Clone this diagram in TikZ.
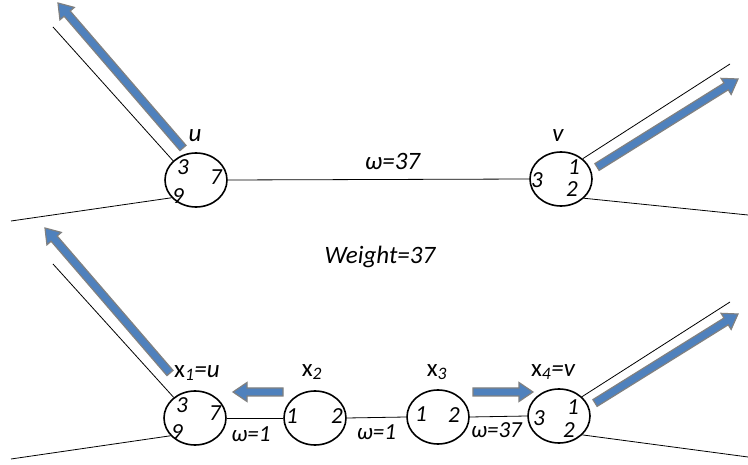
\documentclass[tikz,border=0pt]{standalone}
\usepackage{fontspec}
\setmainfont{Carlito}
\usetikzlibrary{shapes.geometric,calc}

\definecolor{arrowblue}{RGB}{79,129,189}
\definecolor{arrowgray}{RGB}{128,128,128}

% block arrow from #1 to #2
\newcommand{\fatarrow}[2]{%
  \draw[fatarrow] let \p1=($(#2)-(#1)$), \n1={atan2(\y1,\x1)}, \n2={veclen(\x1,\y1)} in
    [shift={(#1)}, rotate=\n1] (0,-4) -- (\n2-14,-4) -- (\n2-14,-9.5) -- (\n2,0)
    -- (\n2-14,9.5) -- (\n2-14,4) -- (0,4) -- cycle;}

\begin{document}
\begin{tikzpicture}[x=1pt,y=-1pt,
    semithick,
    port/.style={ellipse, draw, line width=1.6pt, minimum width=62pt, minimum height=54pt, inner sep=0pt},
    num/.style={font=\fontsize{23}{26}\selectfont\itshape, inner sep=0pt},
    lbl/.style={font=\fontsize{25}{29}\selectfont\itshape, inner sep=0pt},
    wlbl/.style={font=\fontsize{23}{26}\selectfont\itshape, inner sep=0pt},
    wire/.style={line width=0.8pt},
    fatarrow/.style={fill=arrowblue, draw=arrowgray, line width=1.2pt, line join=miter}
    ]
\useasboundingbox (0,0) rectangle (748,465);

% top: single edge
\node[port] (u) at (196,180) {};
\node[port] (v) at (561,179) {};
\node[lbl] (ulbl) at (195,136) {u};
\node[lbl] (vlbl) at (558,136) {v};
\node[num] (u3) at (183,167) {3};
\node[num] (u7) at (216,177) {7};
\node[num] (u9) at (178,196) {9};
\node[num] (v3) at (537,180) {3};
\node[num] (v1) at (574,167) {1};
\node[num] (v2) at (572,189) {2};

\coordinate (uup) at (53,27);
\coordinate (ulow) at (11,221);
\coordinate (vup) at (730,64);
\coordinate (vlow) at (748,215);
\draw[wire] (u.east) -- (v.west) node[lbl, midway, above=9pt, xshift=14pt] (w37) {ω=37};
\draw[wire] (u.140) -- (uup);
\draw[wire] (u.216) -- (ulow);
\draw[wire] (v.43) -- (vup);
\draw[wire] (v.-40) -- (vlow);

\coordinate (uat) at (183,148);
\coordinate (uah) at (58,3);
\coordinate (vat) at (597,167);
\coordinate (vah) at (738,79);
\fatarrow{uat}{uah}
\fatarrow{vat}{vah}

\node[lbl] (weight) at (380,257) {Weight=37};

% bottom: split into a chain
\node[port] (x1) at (195,418) {};
\node[port] (x2) at (315,418) {};
\node[port] (x3) at (438,417) {};
\node[port] (x4) at (559,416) {};
\node[lbl] (x1lbl) at (197,373) {{\upshape x}\textsubscript{1}=u};
\node[lbl] (x2lbl) at (312,372) {{\upshape x}\textsubscript{2}};
\node[lbl] (x3lbl) at (437,372) {{\upshape x}\textsubscript{3}};
\node[lbl] (x4lbl) at (553,372) {{\upshape x}\textsubscript{4}=v};
\node[num] (x13) at (182,405) {3};
\node[num] (x17) at (215,413) {7};
\node[num] (x19) at (177,432) {9};
\node[num] (x21) at (292,416) {1};
\node[num] (x22) at (337,416) {2};
\node[num] (x31) at (421,414) {1};
\node[num] (x32) at (454,415) {2};
\node[num] (x43) at (539,418) {3};
\node[num] (x41) at (573,407) {1};
\node[num] (x42) at (569,430) {2};

\draw[wire] (x1.east) -- (x2.west) node[wlbl, midway, below=8pt, xshift=-4pt] (w1a) {ω=1};
\draw[wire] (x2.east) -- (x3.west) node[wlbl, midway, below=7pt] (w1b) {ω=1};
\draw[wire] (x3.east) -- (x4.west) node[wlbl, midway, below=6pt, xshift=-2pt] (w37b) {ω=37};

\coordinate (x1up) at (53,264);
\coordinate (x1low) at (11,459);
\coordinate (x4up) at (730,302);
\coordinate (x4low) at (748,457);
\draw[wire] (x1.136) -- (x1up);
\draw[wire] (x1.216) -- (x1low);
\draw[wire] (x4.40) -- (x4up);
\draw[wire] (x4.-39) -- (x4low);

\coordinate (x1at) at (170,373);
\coordinate (x1ah) at (45,228);
\coordinate (x4at) at (595,403);
\coordinate (x4ah) at (738,314);
\coordinate (lat) at (283,392);
\coordinate (lah) at (233,392);
\coordinate (rat) at (473,392);
\coordinate (rah) at (533,392);
\fatarrow{x1at}{x1ah}
\fatarrow{x4at}{x4ah}
\fatarrow{lat}{lah}
\fatarrow{rat}{rah}
\end{tikzpicture}
\end{document}
